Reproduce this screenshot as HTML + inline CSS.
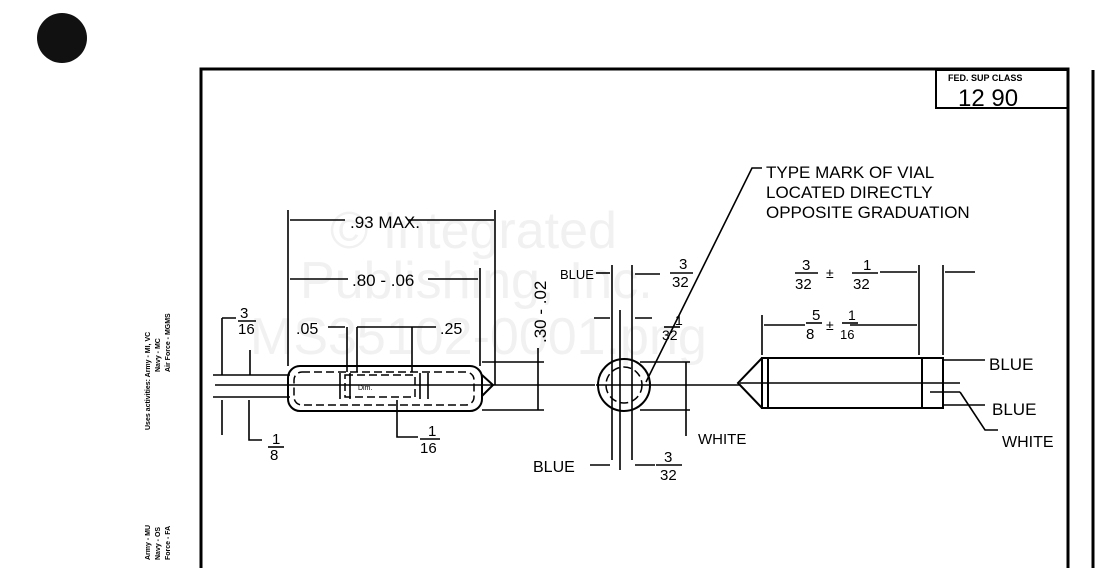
<!DOCTYPE html>
<html><head><style>
html,body{margin:0;padding:0;background:#fff;}
svg{display:block;}
text{font-family:"Liberation Sans",sans-serif;fill:#000;}
.s{stroke:#000;stroke-width:2;fill:none;}
.t{stroke:#000;stroke-width:1.6;fill:none;}
.d{stroke:#000;stroke-width:1.5;fill:none;stroke-dasharray:8 4;}
.wm{fill:#f1f1f1;font-size:52px;}
</style></head><body>
<svg width="1098" height="568" viewBox="0 0 1098 568">
<rect width="1098" height="568" fill="#fff"/>
<circle cx="62" cy="38" r="25" fill="#111"/>
<text class="wm" x="330" y="248">© Integrated</text>
<text class="wm" x="300" y="298">Publishing, Inc.</text>
<text class="wm" x="250" y="354">MS35102-0001.png</text>
<path class="s" d="M201 568 V69 H1068 V568" style="stroke-width:3"/>
<path class="s" d="M1093 70 V568" style="stroke-width:3"/>
<rect x="936" y="70" width="132" height="38" class="s"/>
<text x="948" y="81" font-size="9" font-weight="bold">FED. SUP CLASS</text>
<text x="958" y="106" font-size="24">12 90</text>
<text transform="translate(150,430) rotate(-90)" font-size="7" font-weight="bold">Uses activities:  Army - MI, VC</text>
<text transform="translate(160,372) rotate(-90)" font-size="7" font-weight="bold">Navy - MC</text>
<text transform="translate(170,372) rotate(-90)" font-size="7" font-weight="bold">Air Force - MGMS</text>
<text transform="translate(150,560) rotate(-90)" font-size="7" font-weight="bold">Army - MU</text>
<text transform="translate(160,560) rotate(-90)" font-size="7" font-weight="bold">Navy - OS</text>
<text transform="translate(170,560) rotate(-90)" font-size="7" font-weight="bold">Force - FA</text>
<path class="t" d="M215 385 H595"/>
<path class="t" d="M213 375 H290 M213 397 H290"/>
<rect x="288" y="366" width="194" height="45" rx="12" class="s"/>
<rect x="294" y="372" width="180" height="33" rx="8" class="d"/>
<rect x="345" y="375" width="70" height="22" class="d"/>
<path class="s" d="M482 375 L493 385 L482 396"/>
<path class="t" d="M340 373 V399 M350 373 V399 M420 373 V399 M428 373 V399"/>
<text x="358" y="390" font-size="7">Dim.</text>
<path class="t" d="M288 210 V366 M495 210 V385 M480 268 V366"/>
<path class="t" d="M290 220 H345 M408 220 H494"/>
<text x="350" y="228" font-size="17">.93 MAX.</text>
<path class="t" d="M290 279 H348 M428 279 H478"/>
<text x="352" y="286" font-size="17">.80 - .06</text>
<text x="296" y="334" font-size="16">.05</text>
<path class="t" d="M328 327 H345 M357 327 H436"/>
<text x="440" y="334" font-size="16">.25</text>
<path class="t" d="M347 327 V372 M357 327 V372 M412 327 V372"/>
<text x="240" y="318" font-size="15">3</text><path class="t" d="M238 321 H256"/><text x="238" y="334" font-size="15">16</text>
<path class="t" d="M222 318 H236 M222 318 V375 M222 400 V435 M250 350 V375"/>
<path class="t" d="M249 400 V440 H262"/>
<text x="272" y="444" font-size="15">1</text><path class="t" d="M268 447 H284"/><text x="270" y="460" font-size="15">8</text>
<path class="t" d="M397 400 V437 H418"/>
<text x="428" y="436" font-size="15">1</text><path class="t" d="M420 439 H440"/><text x="420" y="453" font-size="15">16</text>
<text transform="translate(546,343) rotate(-90)" font-size="17">.30 - .02</text>
<path class="t" d="M482 362 H544 M482 410 H544 M538 348 V410"/>
<circle cx="624" cy="385" r="26" class="s"/>
<circle cx="624" cy="385" r="18" class="d"/>
<path class="t" d="M612 265 V460 M632 265 V460 M620 310 V470"/>
<path class="t" d="M596 385 H740"/>
<text x="560" y="279" font-size="13">BLUE</text><path class="t" d="M596 273 H610"/>
<path class="t" d="M635 274 H660"/>
<text x="679" y="269" font-size="15">3</text><path class="t" d="M670 273 H693"/><text x="672" y="287" font-size="15">32</text>
<path class="t" d="M594 318 H610 M635 318 H652"/>
<text x="675" y="325" font-size="14">1</text><path class="t" d="M664 327 H680"/><text x="662" y="340" font-size="14">32</text>
<path class="t" d="M646 382 L752 168 H762"/>
<path class="t" d="M640 362 H690 M640 410 H690 M686 362 V410 M686 410 V436"/>
<text x="698" y="444" font-size="15">WHITE</text>
<text x="533" y="472" font-size="16">BLUE</text><path class="t" d="M590 465 H610"/>
<path class="t" d="M635 465 H655"/>
<text x="664" y="462" font-size="15">3</text><path class="t" d="M656 465 H682"/><text x="660" y="480" font-size="15">32</text>
<text x="766" y="178" font-size="17">TYPE MARK OF VIAL</text>
<text x="766" y="198" font-size="17">LOCATED DIRECTLY</text>
<text x="766" y="218" font-size="17">OPPOSITE GRADUATION</text>
<rect x="762" y="358" width="181" height="50" class="s"/>
<path class="s" d="M762 358 L738 383 L762 408 M768 358 V408 M922 358 V408"/>
<path class="t" d="M740 383 H960"/>
<path class="t" d="M943 360 H985 M943 405 H985 M930 392 H960"/>
<path class="t" d="M960 392 L985 430 H998"/>
<text x="989" y="370" font-size="17">BLUE</text>
<text x="992" y="415" font-size="17">BLUE</text>
<text x="1002" y="447" font-size="16">WHITE</text>
<path class="t" d="M762 315 V355 M919 265 V355 M943 265 V355"/>
<path class="t" d="M764 325 H805 M850 325 H917"/>
<text x="812" y="320" font-size="15">5</text><path class="t" d="M806 323 H822"/><text x="806" y="339" font-size="15">8</text>
<text x="826" y="330" font-size="14">±</text>
<text x="848" y="320" font-size="14">1</text><path class="t" d="M842 323 H858"/><text x="840" y="339" font-size="13">16</text>
<text x="802" y="270" font-size="15">3</text><path class="t" d="M795 273 H818"/><text x="795" y="289" font-size="15">32</text>
<text x="826" y="278" font-size="14">±</text>
<text x="863" y="270" font-size="15">1</text><path class="t" d="M852 273 H878"/><text x="853" y="289" font-size="15">32</text>
<path class="t" d="M880 272 H917 M945 272 H975"/>
</svg>
</body></html>
